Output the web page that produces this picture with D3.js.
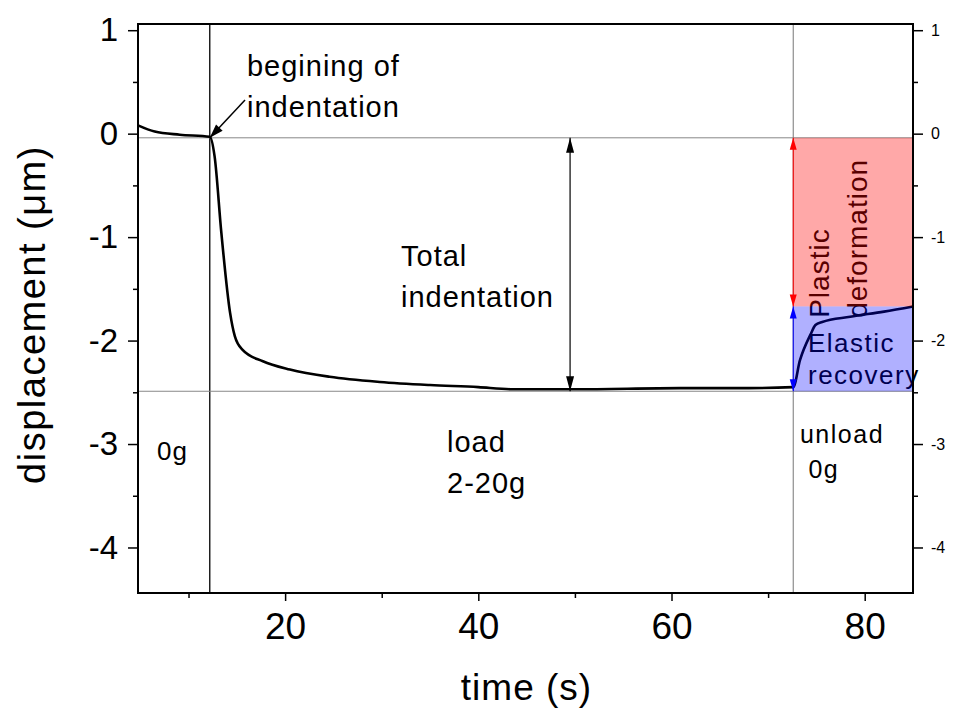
<!DOCTYPE html>
<html>
<head>
<meta charset="utf-8">
<title>Indentation displacement vs time</title>
<script src="https://d3js.org/d3.v7.min.js"></script>
<style>
  body { margin: 0; background: #fff; }
  svg text { font-family: "Liberation Sans", Arial, sans-serif; fill: #000; }
  .axis path { display: none; }
  .axis line { stroke: #000; stroke-width: 1.5px; }
</style>
</head>
<body>
<div id="chart"></div>
<script>
// measured curve: time (s) and displacement (um)
const time = [4.77, 6.5, 9.1, 12.2, 12.7, 13.4, 14.3, 14.8, 15.6, 17.7, 20.5, 24.6, 29.8, 35, 40, 43.3, 50, 60.9, 68, 72.6, 73.3, 74.4, 74.9, 75.6, 78.5, 82, 85];
const disp = [0.08, 0.02, -0.01, -0.03, -0.22, -0.96, -1.73, -1.96, -2.09, -2.2, -2.28, -2.35, -2.40, -2.43, -2.45, -2.47, -2.47, -2.46, -2.46, -2.45, -2.19, -1.94, -1.85, -1.82, -1.77, -1.72, -1.67];

// reference levels
const tStart = 12.2, tUnload = 72.6, tArrow = 49.5;
const zeroLevel = -0.04, elasticTop = -1.67, bottomLevel = -2.49;

const xMajor = [20, 40, 60, 80];
const xMinor = [10, 30, 50, 70];
const yMajor = [1, 0, -1, -2, -3, -4];
const yMinor = [0.5, -0.5, -1.5, -2.5, -3.5];

const W = 954, H = 715;
const margin = {top: 24, right: 41, bottom: 122, left: 138};
const iw = W - margin.left - margin.right;
const ih = H - margin.top - margin.bottom;

const x = d3.scaleLinear().domain([4.77, 85]).range([0, iw]);
const y = d3.scaleLinear().domain([-4.44, 1.06]).range([ih, 0]);
const fmt = d => String(d); // plain hyphen minus, like the original

const svg = d3.select("#chart").append("svg")
    .attr("width", W).attr("height", H);
const g = svg.append("g").attr("transform", `translate(${margin.left},${margin.top})`);

// axes
const bottom = g.append("g").attr("class", "axis").attr("transform", `translate(0,${ih})`);
bottom.call(d3.axisBottom(x).tickValues(xMajor).tickSize(8).tickPadding(12).tickFormat(fmt));
bottom.selectAll("text").style("font-size", "37px").attr("dy", "0.71em");
g.append("g").attr("class", "axis").attr("transform", `translate(0,${ih})`)
    .call(d3.axisBottom(x).tickValues(xMinor).tickSize(5).tickFormat(""));

const left = g.append("g").attr("class", "axis");
left.call(d3.axisLeft(y).tickValues(yMajor).tickSize(10).tickPadding(10).tickFormat(fmt));
left.selectAll("text").style("font-size", "33px");
g.append("g").attr("class", "axis")
    .call(d3.axisLeft(y).tickValues(yMinor).tickSize(5).tickFormat(""));

const right = g.append("g").attr("class", "axis").attr("transform", `translate(${iw},0)`);
right.call(d3.axisRight(y).tickValues(yMajor).tickSize(10).tickPadding(8).tickFormat(fmt));
right.selectAll("text").style("font-size", "16px");
g.append("g").attr("class", "axis").attr("transform", `translate(${iw},0)`)
    .call(d3.axisRight(y).tickValues(yMinor).tickSize(5).tickFormat(""));

// axis titles
svg.append("text")
    .attr("transform", `translate(45,${margin.top + ih / 2 + 6}) rotate(-90)`)
    .attr("text-anchor", "middle")
    .style("font-size", "38px")
    .style("letter-spacing", "1.5px")
    .text("displacement (\u03bcm)");
svg.append("text")
    .attr("x", margin.left + iw / 2 + 1).attr("y", 700)
    .attr("text-anchor", "middle")
    .style("font-size", "37px")
    .style("letter-spacing", "1px")
    .text("time (s)");

// reference lines
g.append("line").attr("x1", x(tStart)).attr("x2", x(tStart)).attr("y1", 0).attr("y2", ih)
    .attr("stroke", "#000").attr("stroke-width", 1.3);
g.append("line").attr("x1", x(tUnload)).attr("x2", x(tUnload)).attr("y1", 0).attr("y2", ih)
    .attr("stroke", "#777").attr("stroke-width", 1);
[zeroLevel, bottomLevel].forEach(v => {
    g.append("line").attr("x1", 0).attr("x2", iw).attr("y1", y(v)).attr("y2", y(v))
        .attr("stroke", "#888").attr("stroke-width", 1);
});

// curve
const pts = time.map((t, i) => [t, disp[i]]);
g.append("path")
    .datum(pts)
    .attr("fill", "none")
    .attr("stroke", "#000")
    .attr("stroke-width", 2.6)
    .attr("d", d3.line().x(d => x(d[0])).y(d => y(d[1])).curve(d3.curveMonotoneX));

// text labels (data coordinates)
function label(t, v, lines, size, gap, spacing) {
    const el = g.append("text").style("font-size", size + "px").style("letter-spacing", spacing + "px");
    lines.forEach((s, i) => {
        el.append("tspan").attr("x", x(t)).attr("y", y(v) + i * gap).text(s);
    });
}
label(16.05, 0.56, ["begining of", "indentation"], 29, 41, 1);
label(32.0, -1.28, ["Total", "indentation"], 29, 41, 1);
label(6.74, -3.155, ["0g"], 26, 0, 1);
label(36.76, -3.077, ["load", "2-20g"], 29, 41, 1);
label(73.3, -2.99, ["unload", " 0g"], 25, 35, 1.5);
label(74.13, -2.11, ["Elastic", "recovery"], 26, 32, 1.5);

// rotated label inside plastic zone
[["Plastic", 76.3], ["deformation", 80.24]].forEach(([s, t]) => {
    g.append("text")
        .attr("transform", `translate(${x(t)},${y(-1.78)}) rotate(-90)`)
        .style("font-size", "28px")
        .style("letter-spacing", "1px")
        .text(s);
});

// shaded zones drawn over the labels
g.append("rect")
    .attr("x", x(tUnload)).attr("width", iw - x(tUnload))
    .attr("y", y(zeroLevel)).attr("height", y(elasticTop) - y(zeroLevel))
    .attr("fill", "#ff0000").attr("fill-opacity", 0.34);
g.append("rect")
    .attr("x", x(tUnload)).attr("width", iw - x(tUnload))
    .attr("y", y(elasticTop)).attr("height", y(bottomLevel) - y(elasticTop))
    .attr("fill", "#0000ff").attr("fill-opacity", 0.31);

// arrowheads
function head(px, py, angle, len, wid, color) {
    // tip at px,py; angle in degrees direction the arrow points
    g.append("path")
        .attr("d", `M0,0 L${-len},${-wid / 2} L${-len},${wid / 2} Z`)
        .attr("transform", `translate(${px},${py}) rotate(${angle})`)
        .attr("fill", color);
}
function dblArrow(t, v1, v2, color, len, wid, sw) {
    g.append("line").attr("x1", x(t)).attr("x2", x(t)).attr("y1", y(v1)).attr("y2", y(v2))
        .attr("stroke", color).attr("stroke-width", sw);
    head(x(t), y(v1), -90, len, wid, color);
    head(x(t), y(v2), 90, len, wid, color);
}
dblArrow(tArrow, zeroLevel, bottomLevel, "#000", 15, 8, 1.2);
dblArrow(tUnload, zeroLevel, elasticTop, "#ff0000", 12, 7, 1);
dblArrow(tUnload, elasticTop, bottomLevel, "#0000ff", 12, 7, 1);

// pointer to start of indentation
const p0 = [x(15.85), y(0.325)], p1 = [x(tStart), y(zeroLevel)];
g.append("line").attr("x1", p0[0]).attr("y1", p0[1]).attr("x2", p1[0]).attr("y2", p1[1])
    .attr("stroke", "#000").attr("stroke-width", 1.5);
head(p1[0], p1[1], Math.atan2(p1[1] - p0[1], p1[0] - p0[0]) * 180 / Math.PI, 14, 9, "#000");

// frame
g.append("rect").attr("width", iw).attr("height", ih)
    .attr("fill", "none").attr("stroke", "#000").attr("stroke-width", 2);
</script>
</body>
</html>
